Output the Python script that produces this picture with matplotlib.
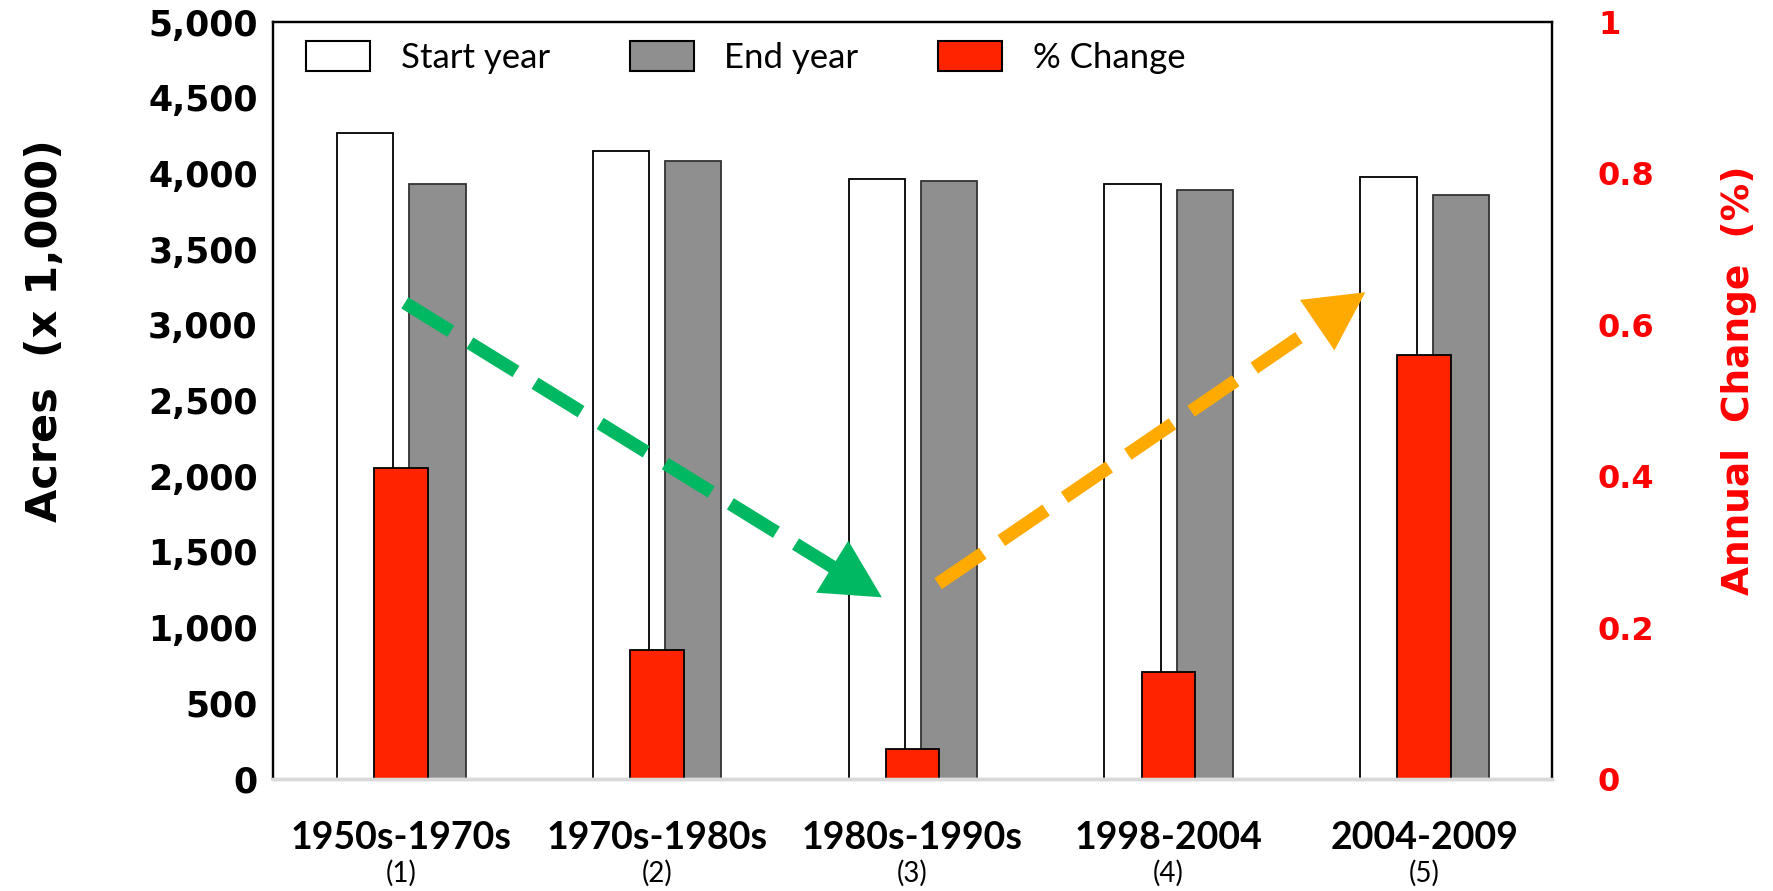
import numpy as np
import matplotlib.pyplot as plt
from matplotlib.patches import Patch

# acreage (x 1,000) at the start / end of each survey period, and annual % change
periods = ['1950s-1970s', '1970s-1980s', '1980s-1990s', '1998-2004', '2004-2009']
period_nums = ['(1)', '(2)', '(3)', '(4)', '(5)']
start_acres = [4270, 4145, 3965, 3930, 3975]
end_acres = [3930, 4080, 3950, 3890, 3860]
annual_change = [0.411, 0.170, 0.040, 0.141, 0.560]

acre_ticks = [0, 500, 1000, 1500, 2000, 2500, 3000, 3500, 4000, 4500, 5000]
pct_ticks = [0, 0.2, 0.4, 0.6, 0.8, 1]
pct_labels = ['0', '0.2', '0.4', '0.6', '0.8', '1']

# trend arrows (x in category units, y in acres)
green_arrow = [(0.015, 3145), (1.88, 1200)]
orange_arrow = [(2.10, 1290), (3.77, 3215)]

WHITE, GRAY, RED = '#FFFFFF', '#8F8F8F', '#FF2400'
GREEN, ORANGE = '#00B862', '#FFAA00'
TICK_FONT = 'DejaVu Sans'
TEXT_FONT = ['Lato', 'DejaVu Sans']

fig = plt.figure(figsize=(17.73, 8.91), dpi=100)
ax = fig.add_axes([0.154, 0.1257, 0.7214, 0.8496])
ax2 = ax.twinx()

x = np.arange(len(periods))
ax.bar(x - 0.14, start_acres, width=0.22, color=WHITE, edgecolor='black', linewidth=1.3)
ax.bar(x + 0.143, end_acres, width=0.22, color=GRAY, edgecolor='#333333', linewidth=1.3)
ax2.bar(x, annual_change, width=0.21, color=RED, edgecolor='black', linewidth=1.3)

ax.set_xlim(-0.5, len(periods) - 0.5)
ax.set_ylim(0, 5000)
ax2.set_ylim(0, 1)

ax.set_yticks(acre_ticks)
ax.set_yticklabels([f'{v:,}' for v in acre_ticks], fontsize=25, fontweight='bold',
                   family=TICK_FONT)
ax2.set_yticks(pct_ticks)
ax2.set_yticklabels(pct_labels, fontsize=23, fontweight='bold', family=TICK_FONT,
                    color='#FF0000')
ax.tick_params(axis='y', length=0, pad=11)
ax2.tick_params(axis='y', length=0, pad=33)

ax.set_xticks(x)
ax.set_xticklabels(periods, fontsize=27, fontweight='bold', family=TEXT_FONT)
ax.tick_params(axis='x', length=0, pad=30)
for xi, num in zip(x, period_nums):
    ax.text(xi, -0.125, num, transform=ax.get_xaxis_transform(), ha='center',
            va='center', fontsize=20, family=TEXT_FONT)

ax.set_ylabel('Acres  (x 1,000)', fontsize=31, fontweight='bold', family=TICK_FONT)
ax.yaxis.set_label_coords(-0.162, 0.593)
ax2.set_ylabel('Annual  Change  (%)', fontsize=27, fontweight='bold',
               family=TICK_FONT, color='#FF0000', rotation=90)
ax2.yaxis.set_label_coords(1.132, 0.527)

for a in (ax, ax2):
    for side in ('left', 'top', 'right'):
        a.spines[side].set_color('black')
        a.spines[side].set_linewidth(1.6)
    a.spines['bottom'].set_color('#D9D9D9')
    a.spines['bottom'].set_linewidth(2.5)


def trend_arrow(axis, pts, color):
    (x0, y0), (x1, y1) = pts
    axis.plot([x0, x0 + 0.97 * (x1 - x0)], [y0, y0 + 0.97 * (y1 - y0)], color=color,
              lw=9.5, linestyle=(0, (4.1, 1.7)), zorder=5)
    axis.annotate('', xy=(x1, y1),
                  xytext=(x0 + 0.85 * (x1 - x0), y0 + 0.85 * (y1 - y0)),
                  arrowprops=dict(arrowstyle='-|>,head_length=2.1,head_width=1.1',
                                  mutation_scale=20, color=color, lw=0,
                                  shrinkA=0, shrinkB=0),
                  zorder=6)


# arrows live on the acreage scale but must sit above the red bars
ax3 = ax.twinx()
ax3.set_ylim(0, 5000)
ax3.axis('off')
ax3.set_xlim(ax.get_xlim())
trend_arrow(ax3, green_arrow, GREEN)
trend_arrow(ax3, orange_arrow, ORANGE)

handles = [Patch(facecolor=WHITE, edgecolor='black', linewidth=1.5),
           Patch(facecolor=GRAY, edgecolor='black', linewidth=1.5),
           Patch(facecolor=RED, edgecolor='black', linewidth=1.5)]
leg = ax3.legend(handles, ['Start year', 'End year', '% Change'], loc='upper left',
                 bbox_to_anchor=(0.026, 0.975), ncol=3, frameon=False,
                 prop={'family': TEXT_FONT, 'size': 25}, handlelength=1.84,
                 handleheight=0.95, handletextpad=0.88, columnspacing=2.3,
                 borderpad=0, borderaxespad=0)

fig.savefig('out.png', dpi=100, facecolor='white')
